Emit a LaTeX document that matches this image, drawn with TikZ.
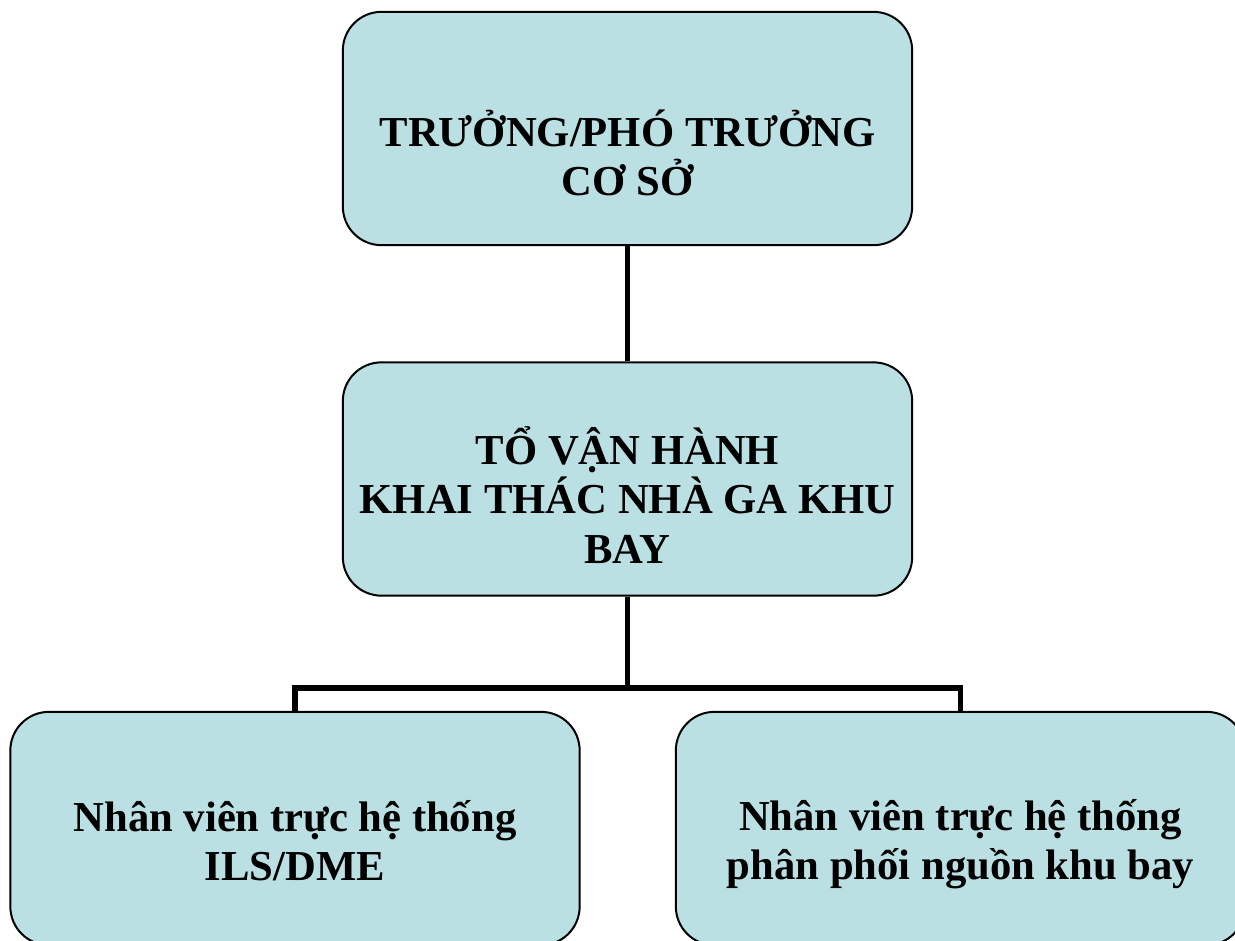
\documentclass[tikz,border=0pt]{standalone}
\usepackage{fontspec}
\setmainfont{Liberation Serif}
\definecolor{boxfill}{HTML}{BBE0E3}
\begin{document}
\begin{tikzpicture}[x=0.75pt,y=-0.75pt,
  orgbox/.style={draw=black,line width=1.5pt,fill=boxfill,rounded corners=29pt,
    minimum width=427pt,minimum height=175pt,inner sep=0pt},
  orgtext/.style={align=center,inner sep=0pt,font=\bfseries\fontsize{32}{37}\selectfont},
  conn/.style={draw=black,line width=4pt,line join=miter}]
\clip (0,0) rectangle (1235,940);
\node[orgbox] (top) at (627.5,128.5) {};
\node[orgbox] (mid) at (627.5,479) {};
\node[orgbox] (bl) at (295,828.5) {};
\node[orgbox] (br) at (960.5,828.5) {};
\node[orgtext] (ttop) at (627.5,153) {TRƯỞNG/PHÓ TRƯỞNG\\CƠ SỞ};
\node[orgtext] (tmid) at (627.5,495) {TỔ VẬN HÀNH\\KHAI THÁC NHÀ GA KHU\\BAY};
\node[orgtext] (tbl) at (295,841) {Nhân viên trực hệ thống\\ILS/DME};
\node[orgtext] (tbr) at (960.5,844.5) {Nhân viên trực hệ thống\\phân phối nguồn khu bay};
\coordinate (bus) at (627.5,688);
\draw[conn] (top.south) -- (mid.north);
\draw[conn] (mid.south) -- (bus);
\draw[conn] (bl.north) |- (bus) -| (br.north);
\end{tikzpicture}
\end{document}
